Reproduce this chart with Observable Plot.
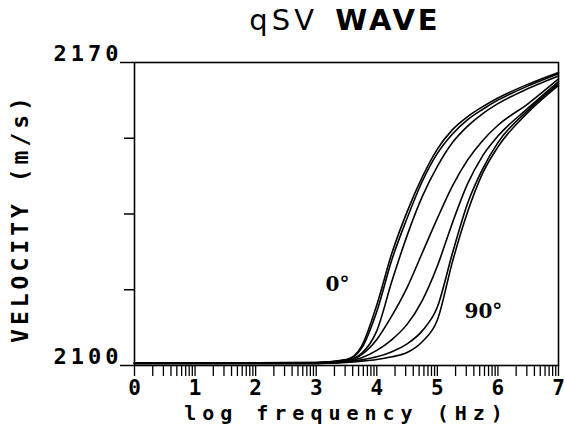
<!DOCTYPE html>
<html>
<head>
<meta charset="utf-8">
<script src="https://cdn.jsdelivr.net/npm/d3@7"></script>
<script src="https://cdn.jsdelivr.net/npm/@observablehq/plot@0.6"></script>
<style>
  body { margin: 0; background: #fff; }
  #wrap { position: relative; width: 564px; height: 444px; }
  #title {
    position: absolute; left: 133px; width: 424px; top: 6px;
    text-align: center; font-family: "DejaVu Sans", sans-serif;
    font-size: 29px; line-height: 29px; color: #000;
    word-spacing: 8px; white-space: nowrap;
  }
  #title .thin { font-weight: normal; letter-spacing: 4px; }
  #title .bold { font-weight: bold; letter-spacing: 3px; }
  text[aria-label="tick-label"] { letter-spacing: 4px; }
  text[aria-label="axis-title"] { letter-spacing: 6px; }
  text[aria-label="y-title"] { letter-spacing: 4px; }
</style>
</head>
<body>
<div id="wrap">
  <div id="title"><span class="thin">qSV</span> <span class="bold">WAVE</span></div>
</div>
<script>
// log10 of frequency (Hz) at which each curve is sampled
const logFreq = [0, 1, 2, 3, 3.5, 3.75, 4, 4.25, 4.5, 4.75, 5, 5.25, 5.5, 5.75, 6, 6.5, 7];

// qSV phase velocity (m/s) for each propagation angle
const angles = ["0°", "15°", "30°", "45°", "60°", "75°", "90°"];
const vel0  = [2100.6, 2100.6, 2100.6, 2100.7, 2101.4, 2104.5, 2114.0, 2126.0, 2135.5, 2143.5, 2150.0, 2154.5, 2157.5, 2159.8, 2161.8, 2165.0, 2167.7];
const vel15 = [2100.6, 2100.6, 2100.6, 2100.7, 2101.3, 2104.0, 2112.5, 2124.5, 2134.0, 2142.5, 2149.0, 2153.5, 2156.8, 2159.2, 2161.3, 2164.6, 2167.4];
const vel30 = [2100.6, 2100.6, 2100.6, 2100.6, 2101.2, 2102.8, 2108.0, 2119.5, 2130.0, 2139.0, 2146.0, 2151.5, 2155.3, 2158.2, 2160.5, 2164.0, 2166.9];
const vel45 = [2100.6, 2100.6, 2100.6, 2100.6, 2101.0, 2102.5, 2106.0, 2111.5, 2118.0, 2126.0, 2134.0, 2141.5, 2147.5, 2152.0, 2155.5, 2160.5, 2166.2];
const vel60 = [2100.5, 2100.5, 2100.5, 2100.5, 2100.9, 2101.8, 2103.5, 2106.0, 2109.5, 2115.0, 2123.0, 2133.0, 2142.0, 2148.5, 2153.0, 2159.5, 2165.6];
const vel75 = [2100.5, 2100.5, 2100.5, 2100.5, 2100.8, 2101.3, 2102.0, 2103.2, 2105.0, 2108.0, 2113.5, 2126.0, 2137.5, 2145.5, 2151.5, 2159.0, 2165.1];
const vel90 = [2100.5, 2100.5, 2100.5, 2100.5, 2100.7, 2101.0, 2101.4, 2102.0, 2103.0, 2105.5, 2110.5, 2124.0, 2135.5, 2144.5, 2150.5, 2158.5, 2164.7];

// axis labelling
const xTickLabels = ["0", "1", "2", "3", "4", "5", "6", "7"];
const yTickLabels = ["2100", "2170"];
const yMinorTicks = [2117.5, 2135, 2152.5];

const series = [vel0, vel15, vel30, vel45, vel60, vel75, vel90];
const rows = series.flatMap((vals, i) =>
  vals.map((v, j) => ({angle: angles[i], logf: logFreq[j], v}))
);

// decade ticks plus the logarithmic minor ticks inside each decade
const xTicks = [];
for (let d = 0; d < 7; ++d) for (let k = 1; k <= 9; ++k) xTicks.push(d + Math.log10(k));
xTicks.push(7);

const font = "'DejaVu Sans Mono', monospace";

const chart = Plot.plot({
  width: 564,
  height: 444,
  marginLeft: 134,
  marginRight: 6,
  marginTop: 62,
  marginBottom: 79,
  x: {domain: [0, 7], label: null},
  y: {domain: [2100, 2170], label: null},
  style: {fontFamily: font, color: "#000", background: "#fff"},
  marks: [
    Plot.axisX({ticks: xTicks, tickSize: 11, tickFormat: () => "", label: null, strokeWidth: 1.3}),
    Plot.axisY({ticks: yMinorTicks, tickSize: 10, tickFormat: () => "", label: null, strokeWidth: 1.5}),
    Plot.axisY({ticks: [2100, 2170], tickSize: 14, tickFormat: () => "", label: null, strokeWidth: 1.5}),
    Plot.frame({stroke: "#000", strokeWidth: 1.6}),
    Plot.line(rows, {
      x: "logf", y: "v", z: "angle",
      curve: "monotone-x", stroke: "#000", strokeWidth: 1.6
    }),
    Plot.text(xTickLabels, {
      x: (d) => +d, frameAnchor: "bottom", lineAnchor: "bottom", dy: 29,
      fontSize: 21, fontWeight: "bold", fontFamily: font, fill: "#000"
    }),
    Plot.text(yTickLabels, {
      y: (d) => +d, frameAnchor: "left", textAnchor: "end", dx: -12, dy: -9,
      fontSize: 22, fontWeight: "bold", fontFamily: font, fill: "#000",
      ariaLabel: () => "tick-label"
    }),
    Plot.text(["0°"], {
      x: 3.35, y: 2118.8, fontSize: 20, fontWeight: "bold", fontFamily: "'DejaVu Serif', serif", fill: "#000"
    }),
    Plot.text(["90°"], {
      x: 5.76, y: 2112.5, fontSize: 20, fontWeight: "bold", fontFamily: "'DejaVu Serif', serif", fill: "#000"
    }),
    Plot.text(["log frequency (Hz)"], {
      frameAnchor: "bottom", textAnchor: "middle", lineAnchor: "bottom", dy: 54,
      fontSize: 20, fontWeight: "bold", fontFamily: font, fill: "#000",
      ariaLabel: () => "axis-title"
    }),
    Plot.text(["VELOCITY (m/s)"], {
      frameAnchor: "left", textAnchor: "middle", dx: -114, dy: 4, rotate: -90,
      fontSize: 23, fontWeight: "bold", fontFamily: font, fill: "#000",
      ariaLabel: () => "y-title"
    })
  ]
});

document.getElementById("wrap").prepend(chart);
</script>
</body>
</html>
